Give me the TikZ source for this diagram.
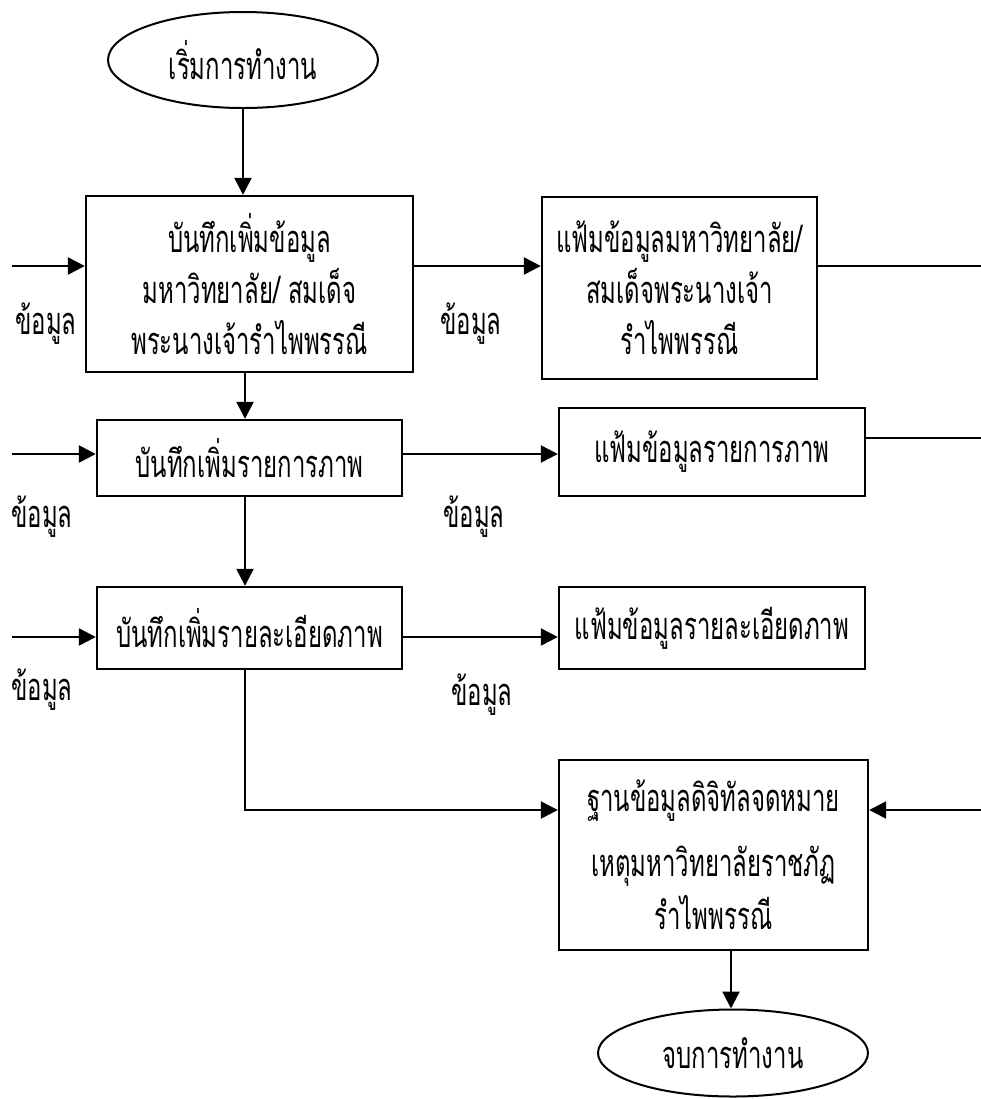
\documentclass[tikz,border=0pt]{standalone}
\usepackage{fontspec}
\usetikzlibrary{arrows.meta,shapes.geometric}
\newfontfamily\thaifont[Script=Thai,FakeStretch=0.63]{Loma}

\begin{document}
\begin{tikzpicture}[x=0.5pt,y=-0.5pt,
  line width=1.2pt,
  >={Triangle[length=8.5pt,width=8.5pt]},
  every node/.style={font={\thaifont\fontsize{19}{25.5}\selectfont}},
  box/.style={draw,rectangle,align=center,inner sep=0pt},
  term/.style={draw,ellipse,inner sep=0pt,minimum width=135pt,line width=1pt}]
\useasboundingbox (0,0) rectangle (981,1099);

\node [term, minimum height=48pt] (start) at (243,60) {เริ่มการทำงาน};
\node [box, minimum width=163.5pt, minimum height=88pt] (rec1) at (249.5,284) {บันทึกเพิ่มข้อมูล\\มหาวิทยาลัย/ สมเด็จ\\พระนางเจ้ารำไพพรรณี};
\node [box, minimum width=137.5pt, minimum height=91pt] (file1) at (679.5,288) {แฟ้มข้อมูลมหาวิทยาลัย/\\สมเด็จพระนางเจ้า\\รำไพพรรณี};
\node [box, minimum width=152.5pt, minimum height=38pt] (rec2) at (249.5,458) {บันทึกเพิ่มรายการภาพ};
\node [box, minimum width=153pt, minimum height=44pt] (file2) at (712,452) {แฟ้มข้อมูลรายการภาพ};
\node [box, minimum width=152.5pt, minimum height=41pt] (rec3) at (249.5,628) {บันทึกเพิ่มรายละเอียดภาพ};
\node [box, minimum width=153pt, minimum height=41pt] (file3) at (712,628) {แฟ้มข้อมูลรายละเอียดภาพ};
\node [box, minimum width=154.5pt, minimum height=95pt] (db) at (713.5,855) {ฐานข้อมูลดิจิทัลจดหมาย\\[7pt]เหตุมหาวิทยาลัยราชภัฏ\\[1pt]รำไพพรรณี};
\node [term, minimum height=43.5pt] (finish) at (733,1053) {จบการทำงาน};

\node (data1) at (46,324) {ข้อมูล};
\node (data2) at (471,324) {ข้อมูล};
\node (data3) at (42,517) {ข้อมูล};
\node (data4) at (474,517) {ข้อมูล};
\node (data5) at (42,690) {ข้อมูล};
\node (data6) at (482,695) {ข้อมูล};

\coordinate (in1) at (12,266);
\coordinate (out1) at (981,266);
\coordinate (in2) at (12,454);
\coordinate (out2) at (981,438);
\coordinate (in3) at (12,637);
\coordinate (in4) at (981,810);
\coordinate (trunk) at (245,0);
\coordinate (stem) at (731,0);

\draw [->] (start.south) -- (start.south |- rec1.north);
\draw [->] (in1) -- (in1 -| rec1.west);
\draw [->] (in1 -| rec1.east) -- (in1 -| file1.west);
\draw (in1 -| file1.east) -- (out1);
\draw [->] (trunk |- rec1.south) -- (trunk |- rec2.north);
\draw [->] (in2) -- (in2 -| rec2.west);
\draw [->] (in2 -| rec2.east) -- (in2 -| file2.west);
\draw (out2 -| file2.east) -- (out2);
\draw [->] (trunk |- rec2.south) -- (trunk |- rec3.north);
\draw [->] (in3) -- (in3 -| rec3.west);
\draw [->] (in3 -| rec3.east) -- (in3 -| file3.west);
\draw [->] (trunk |- rec3.south) |- (in4 -| db.west);
\draw [->] (in4) -- (in4 -| db.east);
\draw [->] (stem |- db.south) -- (stem |- finish.north);
\end{tikzpicture}
\end{document}
